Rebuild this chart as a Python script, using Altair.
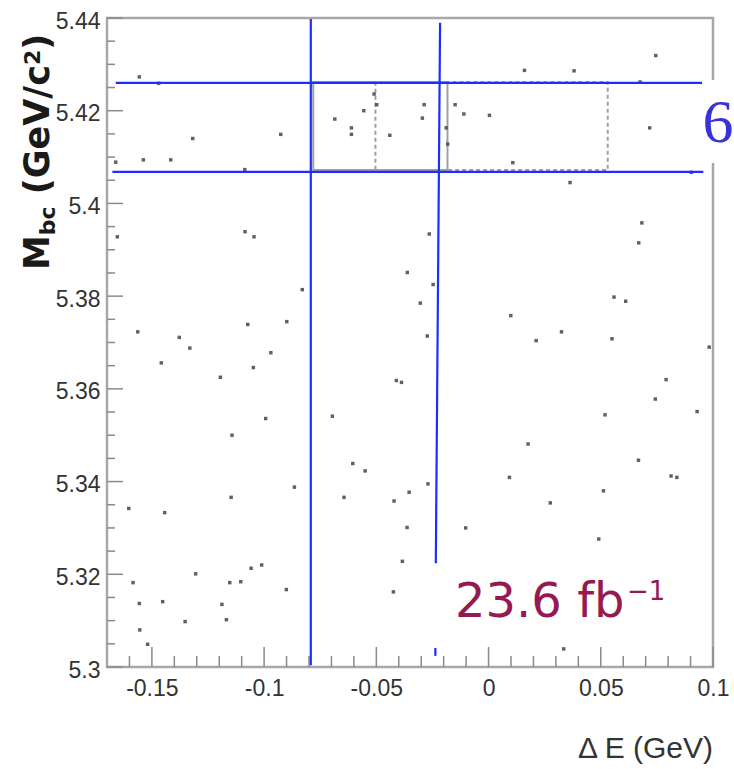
import altair as alt
import pandas as pd

# ---------------- data ----------------
de_vals = [-0.1556, -0.1470, -0.1661, -0.1538, -0.1416, -0.1318, -0.0926, -0.1086, -0.0685, -0.0611,
           -0.0611, -0.0556, -0.0510, -0.0498, -0.0440, -0.1654, -0.1085, -0.1045, -0.0287, -0.0295,
           -0.0149, -0.0110, 0.0004, -0.0189, -0.0182, 0.0108, 0.0160, 0.0381, 0.0745, 0.0675,
           0.0718, 0.0363, 0.0903, 0.0683, 0.0669, -0.0264, -0.0362, -0.0304, -0.0830, -0.1073,
           -0.0899, -0.1563, -0.1378, -0.1331, -0.0970, -0.1458, -0.1048, -0.1195, -0.0411, -0.0388,
           -0.0696, -0.0993, -0.1143, -0.0247, -0.0273, 0.0559, 0.0611, 0.0099, 0.0325, 0.0212,
           0.0550, 0.0983, 0.0791, 0.0743, 0.0929, 0.0519, 0.0176, 0.0668, -0.1603, -0.1443,
           -0.1147, -0.0865, -0.0605, -0.0550, -0.0644, -0.0421, -0.0354, -0.0363, -0.0384, -0.0424,
           -0.1584, -0.1556, -0.1554, -0.1519, -0.1452, -0.1352, -0.1305, -0.1188, -0.1168,
           -0.1153, -0.1104, -0.1058, -0.1011, -0.0901, -0.0270, 0.0093, 0.0275, -0.0102, 0.0512,
           0.0491, 0.0813, 0.0839, 0.0335]
mbc_vals = [5.4273, 5.4259, 5.4089, 5.4094, 5.4094, 5.4140, 5.4149, 5.4073, 5.4182, 5.4163,
            5.4149, 5.4200, 5.4236, 5.4213, 5.4147, 5.3928, 5.3939, 5.3928, 5.4213, 5.4184,
            5.4213, 5.4193, 5.4190, 5.4163, 5.4128, 5.4088, 5.4287, 5.4286, 5.4319, 5.4262,
            5.4163, 5.4045, 5.4067, 5.3958, 5.3915, 5.3934, 5.3851, 5.3785, 5.3814, 5.3739,
            5.3745, 5.3723, 5.3711, 5.3688, 5.3678, 5.3656, 5.3646, 5.3625, 5.3618, 5.3614,
            5.3541, 5.3536, 5.3500, 5.3825, 5.3714, 5.3798, 5.3789, 5.3758, 5.3723, 5.3704,
            5.3708, 5.3690, 5.3620, 5.3578, 5.3551, 5.3544, 5.3481, 5.3446, 5.3342, 5.3333,
            5.3366, 5.3388, 5.3439, 5.3423, 5.3366, 5.3358, 5.3377, 5.3301, 5.3228, 5.3162,
            5.3182, 5.3137, 5.3080, 5.3049, 5.3141, 5.3098, 5.3201, 5.3135, 5.3102,
            5.3182, 5.3184, 5.3213, 5.3220, 5.3167, 5.3395, 5.3409, 5.3354, 5.3300, 5.3380,
            5.3276, 5.3412, 5.3409, 5.3039]

x_major = [-0.15, -0.1, -0.05, 0.0, 0.05, 0.1]
x_minor = [-0.16, -0.14, -0.13, -0.12, -0.11, -0.09, -0.08, -0.07, -0.06, -0.04, -0.03,
           -0.02, -0.01, 0.01, 0.02, 0.03, 0.04, 0.06, 0.07, 0.08, 0.09]
y_major = [5.30, 5.32, 5.34, 5.36, 5.38, 5.40, 5.42, 5.44]
y_minor = [5.305, 5.310, 5.315, 5.325, 5.330, 5.335, 5.345, 5.350, 5.355, 5.365, 5.370,
           5.375, 5.385, 5.390, 5.395, 5.405, 5.410, 5.415, 5.425, 5.430, 5.435]

# signal-box overlays
box_x1 = [-0.0781, -0.0504]
box_x2 = [-0.0183, 0.0531]
box_y1 = [5.4262, 5.4262]
box_y2 = [5.4072, 5.4072]
box_kind = ["solid", "dashed"]

# blue guide lines (segments)
seg_x1 = [-0.1661, -0.1676, -0.0792, -0.0216, -0.0237]
seg_y1 = [5.4260, 5.4068, 5.4398, 5.4390, 5.3041]
seg_x2 = [0.0957, 0.0957, -0.0792, -0.0235, -0.0237]
seg_y2 = [5.4260, 5.4068, 5.3004, 5.3224, 5.3024]

# ---------------- layout ----------------
W, H = 606, 649
LBL_FONT = "Liberation Sans Narrow, Liberation Sans, Arial"
TICK_COLOR = "#8a8a8a"
xs = alt.Scale(domain=[-0.17, 0.1], nice=False, zero=False)
ys = alt.Scale(domain=[5.3, 5.44], nice=False, zero=False)
one = pd.DataFrame({"d": [0]})

AX = alt.Axis(values=x_major, format=".2~f", labelExpr="replace(datum.label, '\u2212', '-')",
              labelFont=LBL_FONT, labelFontSize=23, labelColor="#333333", labelPadding=10,
              labelFlush=False, labelOverlap=False, ticks=False, tickSize=0, domain=False,
              grid=False, title=None)
AY = alt.Axis(values=y_major, format=".2~f",
              labelFont=LBL_FONT, labelFontSize=23, labelColor="#333333", labelPadding=7,
              labelFlush=False, labelOverlap=False, labelBaseline="middle", labelOffset=3,
              ticks=False, tickSize=0, domain=False, grid=False, title=None)

pts = pd.DataFrame({"de": de_vals, "mbc": mbc_vals})
boxes = pd.DataFrame({"x1": box_x1, "x2": box_x2, "y1": box_y1, "y2": box_y2, "k": box_kind})
segs = pd.DataFrame({"x1": seg_x1, "y1": seg_y1, "x2": seg_x2, "y2": seg_y2})

frame = alt.Chart(one).mark_rect(fillOpacity=0, stroke="#a8a8a8", strokeWidth=2.5).encode(
    x=alt.value(0), x2=alt.value(W), y=alt.value(0), y2=alt.value(H))

xmaj = alt.Chart(pd.DataFrame({"v": x_major})).mark_rule(color=TICK_COLOR, strokeWidth=1.5).encode(
    x=alt.X("v:Q", scale=xs, axis=AX), y=alt.value(H), y2=alt.value(H - 20))
xmin = alt.Chart(pd.DataFrame({"v": x_minor})).mark_rule(color=TICK_COLOR, strokeWidth=1.5).encode(
    x=alt.X("v:Q", scale=xs, axis=AX), y=alt.value(H), y2=alt.value(H - 11))
ymaj = alt.Chart(pd.DataFrame({"v": y_major})).mark_rule(color=TICK_COLOR, strokeWidth=1.5).encode(
    y=alt.Y("v:Q", scale=ys, axis=AY), x=alt.value(0), x2=alt.value(16))
ymin = alt.Chart(pd.DataFrame({"v": y_minor})).mark_rule(color=TICK_COLOR, strokeWidth=1.5).encode(
    y=alt.Y("v:Q", scale=ys, axis=AY), x=alt.value(0), x2=alt.value(8))

box_solid = alt.Chart(boxes[boxes.k == "solid"]).mark_rect(
    fillOpacity=0, stroke="#a0a0a0", strokeWidth=2).encode(
    x=alt.X("x1:Q", scale=xs, axis=AX), x2="x2:Q",
    y=alt.Y("y1:Q", scale=ys, axis=AY), y2="y2:Q")
box_dash = alt.Chart(boxes[boxes.k == "dashed"]).mark_rect(
    fillOpacity=0, stroke="#a0a0a0", strokeWidth=2, strokeDash=[4, 3]).encode(
    x=alt.X("x1:Q", scale=xs, axis=AX), x2="x2:Q",
    y=alt.Y("y1:Q", scale=ys, axis=AY), y2="y2:Q")

points = alt.Chart(pts).mark_square(size=12, color="#505050", opacity=0.9).encode(
    x=alt.X("de:Q", scale=xs, axis=AX),
    y=alt.Y("mbc:Q", scale=ys, axis=AY),
)

blue = alt.Chart(segs).mark_rule(color="#1a2eff", strokeWidth=2.2).encode(
    x=alt.X("x1:Q", scale=xs, axis=AX), x2="x2:Q",
    y=alt.Y("y1:Q", scale=ys, axis=AY), y2="y2:Q")

white6 = alt.Chart(one).mark_rect(color="white").encode(
    x=alt.value(595), x2=alt.value(627), y=alt.value(62), y2=alt.value(145))

six = alt.Chart(one).mark_text(text="6", font="Liberation Serif", fontSize=62, color="#3a32d4",
                               align="center", baseline="alphabetic").encode(
    x=alt.value(611), y=alt.value(124))

LUMI_C = "#951a52"
lumi = alt.Chart(one).mark_text(text="23.6 fb", font="DejaVu Sans", fontSize=48,
                                color=LUMI_C, align="left", baseline="alphabetic").encode(
    x=alt.value(348), y=alt.value(599))
lumi_sup = alt.Chart(one).mark_text(text="\u22121", font="DejaVu Sans", fontSize=26,
                                    color=LUMI_C, align="left", baseline="alphabetic").encode(
    x=alt.value(520), y=alt.value(582))

xtitle = alt.Chart(one).mark_text(text="\u0394 E (GeV)", font=LBL_FONT, fontSize=30,
                                  color="#333333", align="right", baseline="alphabetic").encode(
    x=alt.value(606), y=alt.value(740))

# y title built from pieces so that sub/superscripts are real text
TF = "DejaVu Sans"
def ypiece(txt, size, xpos, ypos):
    return alt.Chart(one).mark_text(text=txt, font=TF, fontSize=size, fontWeight="bold",
                                    color="#1a1a1a", angle=270, align="left",
                                    baseline="alphabetic").encode(
        x=alt.value(xpos), y=alt.value(ypos))

yt_M = ypiece("M", 35, -58, 252)
yt_bc = ypiece("bc", 22, -52, 217.2)
yt_unit = ypiece("(GeV/c", 35, -58, 176.2)
yt_2 = ypiece("2", 22, -67.5, 47.1)
yt_par = ypiece(")", 35, -58, 31.8)

chart = alt.layer(
    frame, xmaj, xmin, ymaj, ymin, box_solid, box_dash, points, blue, white6, six, lumi,
    lumi_sup, xtitle, yt_M, yt_bc, yt_unit, yt_2, yt_par
).properties(
    width=W, height=H,
    autosize=alt.AutoSizeParams(type="none"),
    padding={"left": 107, "top": 18, "right": 21, "bottom": 102},
    background="white",
).configure_view(stroke=None)

chart.save("out.html", embed_options={"renderer": "svg", "actions": False})
